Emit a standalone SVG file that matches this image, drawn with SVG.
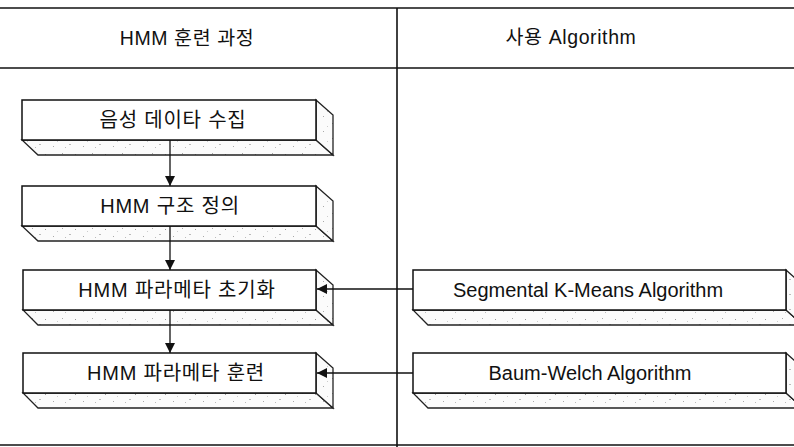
<svg xmlns="http://www.w3.org/2000/svg" width="794" height="447" viewBox="0 0 794 447">
<style>
.rule{stroke:#111;stroke-width:1.6;fill:none}
.front{fill:#fff;stroke:#111;stroke-width:1.5}
.side{fill:url(#speck);stroke:#222;stroke-width:1.3;stroke-linejoin:miter}
.lbl{font-family:"Liberation Sans","Noto Sans CJK KR",sans-serif;font-size:20px;letter-spacing:0.8px;fill:#111;text-anchor:middle}
.hdr{font-family:"Liberation Sans","Noto Sans CJK KR",sans-serif;font-size:19.5px;letter-spacing:0.6px;fill:#111;text-anchor:middle}
.conn{stroke:#111;stroke-width:1.3;fill:none}
</style>
<defs>
<pattern id="speck" width="30" height="15" patternUnits="userSpaceOnUse">
<rect width="30" height="15" fill="#fbfbfb"/>
<rect x="2" y="3" width="1" height="1" fill="#aaa"/>
<rect x="9" y="9" width="2" height="1" fill="#bbb"/>
<rect x="15" y="4" width="1" height="1" fill="#999"/>
<rect x="23" y="11" width="1" height="1" fill="#aaa"/>
<rect x="27" y="6" width="1" height="1" fill="#ccc"/>
<rect x="5" y="12" width="1" height="1" fill="#bbb"/>
</pattern>
<marker id="arr" viewBox="0 0 10 10" refX="10" refY="5" markerWidth="10" markerHeight="10" markerUnits="userSpaceOnUse" orient="auto">
<path d="M0,0 L10,5 L0,10 Z" fill="#111"/>
</marker>
</defs>
<rect width="794" height="447" fill="#fff"/>
<g id="frame">
<line class="rule" x1="0" y1="8" x2="794" y2="8"/>
<line class="rule" x1="0" y1="68" x2="794" y2="68"/>
<line class="rule" x1="0" y1="445" x2="794" y2="445"/>
<line class="rule" x1="397" y1="8" x2="397" y2="447"/>
<text class="hdr" x="187" y="45">HMM 훈련 과정</text>
<text class="hdr" x="571" y="44">사용 Algorithm</text>
</g>
<g id="n1">
<polygon class="side" points="22,140 316,140 333,155 38,155"/>
<polygon class="side" points="316,100 333,115 333,155 316,140"/>
<rect class="front" x="22" y="100" width="294" height="40"/>
<text class="lbl" x="173" y="127">음성 데이타 수집</text>
</g>
<g id="n2">
<polygon class="side" points="22,226 316,226 333,241 38,241"/>
<polygon class="side" points="316,186 333,201 333,241 316,226"/>
<rect class="front" x="22" y="186" width="294" height="40"/>
<text class="lbl" x="170" y="213">HMM 구조 정의</text>
</g>
<g id="n3">
<polygon class="side" points="23,310 316,310 333,325 38,325"/>
<polygon class="side" points="316,270 333,285 333,325 316,310"/>
<rect class="front" x="23" y="270" width="293" height="40"/>
<text class="lbl" x="177" y="297">HMM 파라메타 초기화</text>
</g>
<g id="n4">
<polygon class="side" points="23,393 316,393 333,408 38,408"/>
<polygon class="side" points="316,353 333,368 333,408 316,393"/>
<rect class="front" x="23" y="353" width="293" height="40"/>
<text class="lbl" x="176" y="380">HMM 파라메타 훈련</text>
</g>
<g id="n5">
<polygon class="side" points="413,310 786,310 803,325 428,325"/>
<polygon class="side" points="786,270 803,285 803,325 786,310"/>
<rect class="front" x="413" y="270" width="373" height="40"/>
<text class="lbl" x="588" y="297" style="letter-spacing:0">Segmental K-Means Algorithm</text>
</g>
<g id="n6">
<polygon class="side" points="413,393 786,393 803,408 428,408"/>
<polygon class="side" points="786,353 803,368 803,408 786,393"/>
<rect class="front" x="413" y="353" width="373" height="40"/>
<text class="lbl" x="590" y="380" style="letter-spacing:0">Baum-Welch Algorithm</text>
</g>
<g id="connectors">
<line class="conn" x1="170" y1="140" x2="170" y2="186" marker-end="url(#arr)"/>
<line class="conn" x1="170" y1="226" x2="170" y2="270" marker-end="url(#arr)"/>
<line class="conn" x1="170" y1="310" x2="170" y2="353" marker-end="url(#arr)"/>
<line class="conn" x1="413" y1="289" x2="317" y2="289" marker-end="url(#arr)"/>
<line class="conn" x1="413" y1="373" x2="317" y2="373" marker-end="url(#arr)"/>
</g>
</svg>
